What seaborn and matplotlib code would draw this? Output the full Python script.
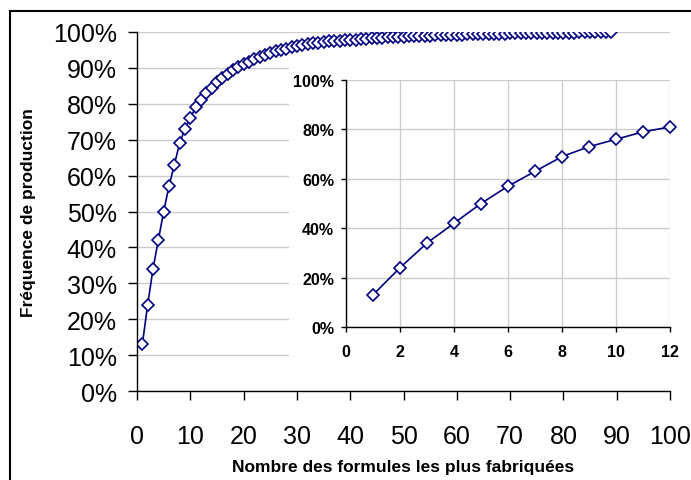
import numpy as np
import pandas as pd
import seaborn as sns
import matplotlib.pyplot as plt
from matplotlib.patches import Rectangle
from matplotlib.ticker import PercentFormatter

sns.set_style('white')
plt.rcParams['font.family'] = ['Liberation Sans', 'DejaVu Sans']
plt.rcParams.update({'text.color': 'black', 'axes.labelcolor': 'black',
                     'xtick.color': 'black', 'ytick.color': 'black'})

# cumulative production share (%) for the n most produced formulas
rang = list(range(1, 90))
freq = [13, 24, 34, 42, 50, 57, 63, 69, 73, 76, 79, 81,
        83, 84.5, 86, 87.2, 88.3, 89.3, 90.2, 91, 91.7, 92.4, 93, 93.5,
        94.1, 94.6, 95.0, 95.4, 95.8, 96.1, 96.4, 96.6, 96.8, 97.0, 97.2, 97.4,
        97.5, 97.6, 97.7, 97.8, 97.9, 98.0, 98.1, 98.2, 98.3, 98.4, 98.5, 98.6,
        98.65, 98.7, 98.8, 98.85, 98.9, 98.95, 99.0, 99.05, 99.1, 99.15, 99.2, 99.25,
        99.3, 99.33, 99.36, 99.4, 99.43, 99.46, 99.5, 99.53, 99.56, 99.6, 99.62, 99.65,
        99.67, 99.7, 99.72, 99.74, 99.76, 99.78, 99.8, 99.82, 99.84, 99.86, 99.88, 99.9,
        99.92, 99.94, 99.96, 99.98, 100]
df = pd.DataFrame({'n': rang, 'freq': np.array(freq) / 100})
zoom_n = 12

navy = '#000080'
grid_c = '#cccccc'
W, H = 691, 481
fig = plt.figure(figsize=(W / 100, H / 100), dpi=100)

# main chart
ax = fig.add_axes([137 / W, 1 - 392 / H, (670 - 137) / W, (392 - 33) / H])
sns.lineplot(data=df, x='n', y='freq', ax=ax, color=navy, lw=1.2,
             marker='D', markersize=6.5, markerfacecolor='white',
             markeredgecolor=navy, markeredgewidth=1.2)
ax.set_xlim(0, 100)
ax.set_ylim(0, 1)
ax.set_xticks(np.arange(0, 101, 10))
ax.set_yticks(np.arange(0, 1.01, 0.1))
ax.yaxis.set_major_formatter(PercentFormatter(1, decimals=0))
ax.yaxis.grid(True, color=grid_c, lw=1)
ax.set_axisbelow(True)
for s in ['top', 'right']:
    ax.spines[s].set_visible(False)
for s in ['left', 'bottom']:
    ax.spines[s].set_color('black')
    ax.spines[s].set_linewidth(1)
ax.tick_params(axis='both', direction='out', length=6.5, width=1, color='black',
               labelcolor='black', labelsize=18, pad=8, bottom=True, left=True)
ax.tick_params(axis='x', pad=17)
ax.set_xlabel('Nombre des formules les plus fabriquées', fontsize=12.5,
              fontweight='bold', labelpad=8.5)
ax.set_ylabel('Fréquence de production', fontsize=12.5, fontweight='bold',
              labelpad=12)

# white area behind the inset hides the main grid
fig.patches.append(Rectangle((289 / W, 1 - 372 / H), 1, (372 - 62) / H,
                             transform=fig.transFigure, facecolor='white',
                             edgecolor='none', zorder=1))

# inset: first 12 formulas
ins = fig.add_axes([346 / W, 1 - 328 / H, (670 - 346) / W, (328 - 81) / H])
ins.set_zorder(2)
sns.lineplot(data=df[df['n'] <= zoom_n], x='n', y='freq', ax=ins, color=navy,
             lw=1.2, marker='D', markersize=6.5, markerfacecolor='white',
             markeredgecolor=navy, markeredgewidth=1.2, clip_on=False)
ins.set_xlim(0, 12)
ins.set_ylim(0, 1)
ins.set_xticks(np.arange(0, 13, 2))
ins.set_yticks(np.arange(0, 1.01, 0.2))
ins.yaxis.set_major_formatter(PercentFormatter(1, decimals=0))
ins.grid(True, color=grid_c, lw=1)
ins.set_axisbelow(True)
for s in ['top', 'right']:
    ins.spines[s].set_visible(False)
for s in ['left', 'bottom']:
    ins.spines[s].set_color('black')
    ins.spines[s].set_linewidth(1)
ins.tick_params(axis='both', direction='out', length=3.5, width=1,
                color='black', labelcolor='black', labelsize=11.5, pad=5,
                bottom=True, left=True)
ins.tick_params(axis='x', pad=9)
for lab in ins.get_xticklabels() + ins.get_yticklabels():
    lab.set_fontweight('bold')
ins.set_xlabel('')
ins.set_ylabel('')

# frame around the chart area
fig.patches.append(Rectangle((10 / W, -0.1), 1.2, 1.1 - 12 / H,
                             transform=fig.transFigure, fill=False,
                             edgecolor='black', lw=1.5))

fig.savefig('out.png', dpi=100)
